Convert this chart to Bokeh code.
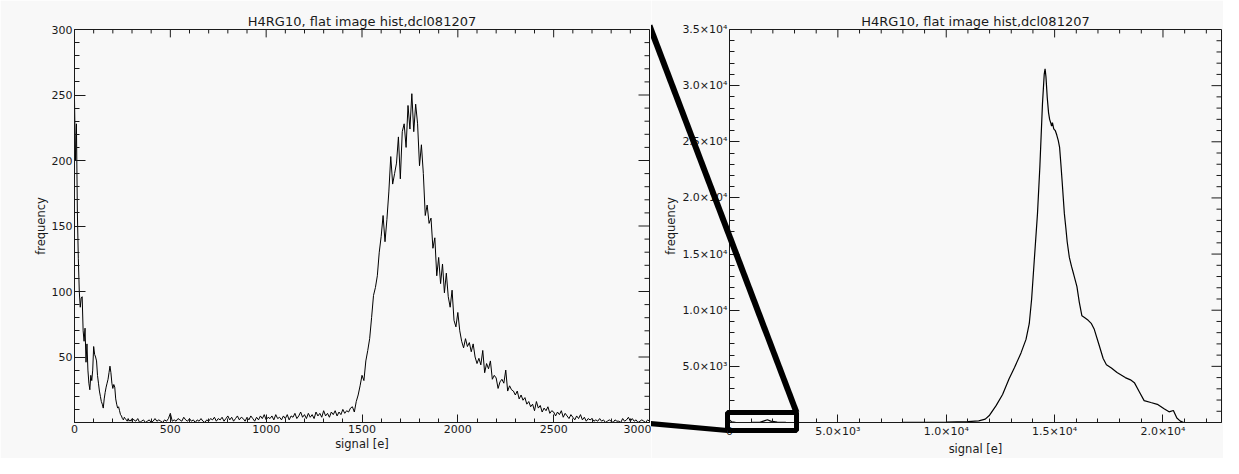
from bokeh.plotting import figure
from bokeh.models import FixedTicker, Range1d
from bokeh.layouts import row
from bokeh.embed import file_html
from bokeh.resources import INLINE

# ---------------- data ----------------
TITLE = "H4RG10, flat image hist,dcl081207"
X_LABEL = "signal [e]"
Y_LABEL = "frequency"

# left panel: zoomed histogram 0..3000 e
left_signal = [
    0, 5, 10, 15, 20, 25, 30, 35, 40, 45, 50, 55, 60, 65, 70, 75, 80, 85, 90, 95,
    100, 105, 110, 115, 120, 125, 130, 135, 140, 145, 150, 155, 160, 165, 170, 175, 180, 185, 190, 195,
    200, 205, 210, 215, 220, 225, 230, 235, 240, 245, 250, 255, 260, 265, 270, 275, 280, 285, 290, 295,
    300,
    310, 320, 330, 340, 350, 360, 370, 380, 390, 400,
    410, 420, 430, 440, 450, 460, 470, 480, 490, 500,
    510, 520, 530, 540, 550, 560, 570, 580, 590, 600,
    610, 620, 630, 640, 650, 660, 670, 680, 690, 700,
    710, 720, 730, 740, 750, 760, 770, 780, 790, 800,
    810, 820, 830, 840, 850, 860, 870, 880, 890, 900,
    910, 920, 930, 940, 950, 960, 970, 980, 990, 1000,
    1010, 1020, 1030, 1040, 1050, 1060, 1070, 1080, 1090, 1100,
    1110, 1120, 1130, 1140, 1150, 1160, 1170, 1180, 1190, 1200,
    1210, 1220, 1230, 1240, 1250, 1260, 1270, 1280, 1290, 1300,
    1310, 1320, 1330, 1340, 1350, 1360, 1370, 1380, 1390, 1400,
    1410, 1420, 1430, 1440,
    1450, 1460, 1470, 1480, 1490, 1500, 1510, 1520, 1530, 1540,
    1550, 1560, 1570, 1580, 1590, 1600, 1610, 1620, 1630, 1640,
    1650, 1660, 1670, 1680, 1690, 1700, 1710, 1720, 1730, 1740,
    1750, 1760, 1770, 1780, 1790, 1800, 1810, 1820, 1830, 1840,
    1850, 1860, 1870, 1880, 1890, 1900, 1910, 1920, 1930, 1940,
    1950, 1960, 1970, 1980, 1990, 2000, 2010, 2020, 2030, 2040,
    2050, 2060, 2070, 2080, 2090, 2100, 2110, 2120, 2130, 2140,
    2150, 2160, 2170, 2180, 2190, 2200, 2210, 2220, 2230, 2240,
    2250, 2260, 2270, 2280, 2290, 2300, 2310, 2320, 2330, 2340,
    2350, 2360, 2370, 2380, 2390, 2400, 2410, 2420, 2430, 2440,
    2450, 2460, 2470, 2480, 2490, 2500, 2510, 2520, 2530, 2540,
    2550, 2560, 2570, 2580, 2590, 2600, 2610, 2620, 2630, 2640,
    2650, 2660, 2670, 2680, 2690, 2700, 2710, 2720, 2730, 2740,
    2750, 2760, 2770, 2780, 2790, 2800, 2810, 2820, 2830, 2840,
    2850, 2860, 2870, 2880, 2890, 2900, 2910, 2920, 2930, 2940,
    2950, 2960, 2970, 2980, 2990, 3000,
]
left_freq = [
    246, 200, 228, 160, 125, 100, 88, 95, 96, 70, 62, 72, 46, 60, 40, 30, 25, 36, 32, 40,
    58, 52, 50, 47, 36, 30, 24, 20, 16, 14, 11, 18, 23, 27, 30, 33, 38, 43, 38, 30,
    26, 29, 27, 18, 14, 11, 12, 9, 6, 5, 3, 2, 4, 3, 2, 1, 3, 1, 2, 1,
    3,
    2, 1, 3, 0, 1, 2, 0, 1, 2, 0,
    1, 3, 1, 2, 1, 0, 2, 1, 3, 7,
    1, 2, 1, 3, 2, 1, 4, 2, 1, 3,
    1, 2, 0, 2, 1, 3, 1, 0, 2, 1,
    3, 2, 4, 1, 3, 2, 4, 1, 3, 5,
    2, 4, 1, 3, 5, 2, 4, 3, 1, 4,
    2, 5, 3, 1, 4, 2, 5, 3, 6, 2,
    4, 3, 5, 2, 6, 3, 4, 2, 5, 3,
    6, 2, 5, 4, 7, 3, 5, 8, 4, 6,
    3, 7, 4, 6, 3, 8, 5, 7, 4, 9,
    5, 7, 4, 8, 6, 9, 5, 8, 6, 10,
    7, 9, 8, 11,
    12, 8, 16, 21, 28, 36, 32, 47, 55, 64,
    80, 97, 103, 112, 130, 142, 158, 138, 155, 176,
    203, 182, 190, 198, 218, 186, 222, 228, 210, 242,
    224, 251, 222, 243, 228, 196, 212, 190, 158, 166,
    152, 156, 133, 141, 112, 126, 106, 121, 99, 114,
    96, 88, 101, 78, 73, 84, 70, 62, 57, 64,
    58, 61, 54, 60, 50, 45, 49, 44, 55, 38,
    45, 41, 47, 33, 36, 34, 26, 31, 33, 30,
    40, 24, 28, 25, 24, 21, 24, 18, 21, 17,
    19, 14, 16, 12, 14, 9, 16, 11, 13, 8,
    11, 9, 12, 7, 9, 8, 5, 8, 6, 9,
    4, 7, 5, 3, 6, 4, 2, 5, 3, 6,
    2, 4, 1, 3, 2, 3, 1, 2, 1, 3,
    1, 2, 0, 1, 2, 1, 0, 2, 1, 1,
    0, 3, 1, 2, 4, 1, 3, 1, 2, 0,
    1, 2, 1, 0, 2, 1,
]

# right panel: full histogram
right_signal = [
    0, 100, 200, 300, 1000, 1400, 1600, 1750, 1900, 2200,
    2600, 3000, 5000, 8000, 10000, 10500, 11000, 11500, 11800, 12000,
    12300, 12600, 12900, 13150, 13450, 13680, 13830, 13940, 14060, 14210,
    14320, 14440, 14520, 14560, 14600, 14660, 14720, 14770, 14820, 14860,
    14900, 14960, 15030, 15100, 15170, 15230, 15290, 15350, 15400, 15450,
    15520, 15580, 15680, 15780, 15880, 16030, 16140, 16260, 16410, 16550,
    16700, 16830, 17020, 17240, 17390, 17620, 17880, 18260, 18500, 18680,
    18900, 19130, 19440, 19740, 20050, 20280, 20480, 20640, 20800, 20960,
]
right_freq = [
    240, 50, 30, 2, 3, 10, 150, 250, 120, 35,
    5, 1, 0, 5, 30, 60, 80, 150, 300, 650,
    1500, 2500, 3900, 4900, 6200, 7400, 8800, 11000, 14400, 18600,
    22800, 28400, 31000, 31500, 30800, 28950, 27600, 27000, 26700, 26400,
    26700, 26150, 26000, 25600, 25100, 24500, 23000, 21400, 20000, 18600,
    17300, 16100, 14700, 13900, 13200, 12100, 10700, 9500, 9300, 9100,
    8800, 8300, 7100, 5700, 5150, 4850, 4450, 4000, 3800, 3550,
    2760, 1950, 1780, 1620, 1220, 950, 1070, 400, 120, 0,
]

# axes / ticks
left_x_range = (0, 3000)
left_y_range = (0, 300)
left_xticks = [0, 500, 1000, 1500, 2000, 2500, 3000]
left_xminor = [v for v in range(0, 3001, 100) if v % 500]
left_yticks = [0, 50, 100, 150, 200, 250, 300]
left_yminor = [v for v in range(0, 301, 10) if v % 50]
left_xlabels = {0: "0", 500: "500", 1000: "1000", 1500: "1500", 2000: "2000", 2500: "2500", 3000: "3000"}
left_ylabels = {0: "", 50: "50", 100: "100", 150: "150", 200: "200", 250: "250", 300: "300"}

right_x_range = (0, 22700)
right_y_range = (0, 35000)
right_xticks = [0, 5000, 10000, 15000, 20000]
right_xminor = [v for v in range(0, 22001, 1000) if v % 5000]
right_yticks = [0, 5000, 10000, 15000, 20000, 25000, 30000, 35000]
right_yminor = [v for v in range(0, 35001, 1000) if v % 5000]
right_xlabels = {0: "0", 5000: "5.0×10³", 10000: "1.0×10⁴", 15000: "1.5×10⁴", 20000: "2.0×10⁴"}
right_ylabels = {0: "", 5000: "5.0×10³", 10000: "1.0×10⁴", 15000: "1.5×10⁴", 20000: "2.0×10⁴",
                 25000: "2.5×10⁴", 30000: "3.0×10⁴", 35000: "3.5×10⁴"}

# ---------------- style / layout ----------------
FONT = "DejaVu Sans"
BG = "#f8f8f8"
INK = "#1a1a1a"
H = 458
L_W, L_BL, L_BR, L_BT, L_BB = 651, 74, 2, 25, 34
R_W, R_BL, R_BR, R_BT, R_BB = 572, 78, 2, 29, 34


def make_fig(width, bl, br, bt, bb, xr, yr):
    p = figure(width=width, height=H, x_range=Range1d(*xr), y_range=Range1d(*yr),
               output_backend="svg", toolbar_location=None, tools="",
               min_border_left=bl, min_border_right=br, min_border_top=bt,
               min_border_bottom=bb, title=TITLE)
    p.background_fill_color = BG
    p.border_fill_color = BG
    p.outline_line_color = INK
    p.outline_line_width = 1
    p.grid.visible = False
    p.title.align = "center"
    p.title.text_font = FONT
    p.title.text_font_size = "13px"
    p.title.text_font_style = "normal"
    p.title.text_color = INK
    p.title.standoff = 2
    return p


def style_axis(ax, ticks, minor, labels, tick_len, minor_len, axis_label):
    ax.ticker = FixedTicker(ticks=ticks, minor_ticks=minor)
    ax.major_tick_in = tick_len
    ax.major_tick_out = 0
    ax.minor_tick_in = minor_len
    ax.minor_tick_out = 0
    ax.axis_line_color = INK
    ax.major_tick_line_color = INK
    ax.minor_tick_line_color = INK
    ax.major_label_overrides = labels
    ax.major_label_text_font = FONT
    ax.major_label_text_font_size = "11px"
    ax.major_label_text_color = INK
    ax.major_label_standoff = 2
    ax.axis_label = axis_label
    ax.axis_label_text_font = FONT
    ax.axis_label_text_font_size = "11.5px"
    ax.axis_label_text_font_style = "normal"
    ax.axis_label_text_color = INK
    ax.axis_label_standoff = 1


def add_box_axes(p, dims, xr, yr, xt, xm, xl, yt, ym, yl, xlen, ylen):
    style_axis(p.below[0], xt, xm, xl, xlen, xlen // 2, X_LABEL)
    style_axis(p.left[0], yt, ym, yl, ylen, ylen // 2, Y_LABEL)
    # inward tick marks on the top and right frame edges (IDL box style)
    fw, fh = dims
    ux = (xr[1] - xr[0]) / fw
    uy = (yr[1] - yr[0]) / fh
    for pos, ln in ((xt, xlen), (xm, xlen // 2)):
        p.segment(x0=pos, y0=[yr[1]] * len(pos), x1=pos, y1=[yr[1] - ln * uy] * len(pos),
                  line_color=INK, line_width=1)
    for pos, ln in ((yt, ylen), (ym, ylen // 2)):
        p.segment(x0=[xr[1]] * len(pos), y0=pos, x1=[xr[1] - ln * ux] * len(pos), y1=pos,
                  line_color=INK, line_width=1)


# left figure
l_dims = (L_W - L_BL - L_BR, H - L_BT - L_BB)
p1 = make_fig(L_W, L_BL, L_BR, L_BT, L_BB, left_x_range, left_y_range)
add_box_axes(p1, l_dims, left_x_range, left_y_range, left_xticks, left_xminor, left_xlabels,
             left_yticks, left_yminor, left_ylabels, 8, 11)
p1.line(left_signal, left_freq, line_color="black", line_width=1)

# right figure
r_dims = (R_W - R_BL - R_BR, H - R_BT - R_BB)
p2 = make_fig(R_W, R_BL, R_BR, R_BT, R_BB, right_x_range, right_y_range)
add_box_axes(p2, r_dims, right_x_range, right_y_range, right_xticks, right_xminor, right_xlabels,
             right_yticks, right_yminor, right_ylabels, 8, 10)
p2.line(right_signal, right_freq, line_color="black", line_width=1.2)

# zoom box + connectors (geometry from the layout above)
ux = (right_x_range[1] - right_x_range[0]) / r_dims[0]   # data per px
uy = (right_y_range[1] - right_y_range[0]) / r_dims[1]
gap_px = R_BL + L_BR                # left frame right edge -> right frame left edge
top_off_px = R_BT - L_BT            # left frame top is this many px above right frame top
bot_off_px = L_BB - R_BB            # left frame bottom relative to right frame bottom
zx0, zx1 = left_x_range[0] - 2 * ux, left_x_range[1] + 2 * ux
zy0, zy1 = -8 * uy, 10 * uy
p2.line([zx0, zx1, zx1, zx0, zx0], [zy0, zy0, zy1, zy1, zy0],
        line_color="black", line_width=5, level="overlay")
p2.line([-gap_px * ux, zx1], [right_y_range[1] + top_off_px * uy, zy1],
        line_color="black", line_width=6, level="overlay")
p2.line([-gap_px * ux, zx0], [(bot_off_px - 1) * uy, zy0],
        line_color="black", line_width=5, level="overlay")

layout = row(p1, p2)
open("out.html", "w").write(file_html(layout, INLINE))
